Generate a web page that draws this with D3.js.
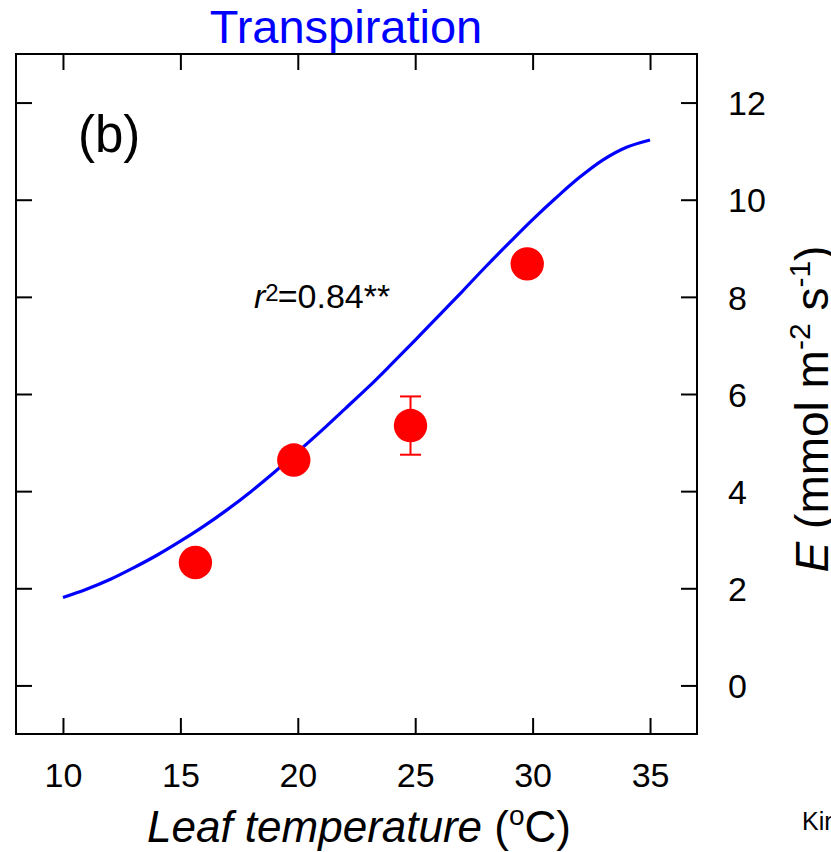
<!DOCTYPE html>
<html>
<head>
<meta charset="utf-8">
<script src="https://cdn.jsdelivr.net/npm/d3@7"></script>
<style>
  html, body { margin: 0; padding: 0; background: #fff; }
  svg { display: block; font-family: "Liberation Sans", Arial, sans-serif; }
</style>
</head>
<body>
<svg id="chart" width="831" height="852"></svg>
<script>
// ---- data ----
const xTicks = [10, 15, 20, 25, 30, 35];
const yTicks = [0, 2, 4, 6, 8, 10, 12];
const obsTemp = [15.64, 19.83, 24.80, 29.77];
const obsE = [2.53, 4.64, 5.35, 8.68];
const obsErr = [0, 0, 0.60, 0];
const modelTemp = [10, 11, 12, 13, 14, 15, 16, 17, 18, 19, 20, 21, 22, 23, 24, 25, 26, 27, 28, 29, 30, 31, 32, 33, 34, 35];
const modelE = [1.81, 1.98, 2.18, 2.42, 2.68, 2.97, 3.28, 3.62, 3.99, 4.39, 4.81, 5.24, 5.69, 6.14, 6.62, 7.11, 7.61, 8.11, 8.62, 9.11, 9.59, 10.04, 10.46, 10.82, 11.08, 11.23];

const svg = d3.select("#chart");
const pLeft = 16, pRight = 697, pTop = 54, pBottom = 734;

const x = d3.scaleLinear().domain([8, 37]).range([pLeft, pRight]);
const y = d3.scaleLinear().domain([-1, 13]).range([pBottom, pTop]);

const tickFont = 34;

// axes
const gB = svg.append("g").attr("transform", `translate(0,${pBottom})`)
  .call(d3.axisBottom(x).tickValues(xTicks).tickSize(-16).tickSizeOuter(0).tickPadding(29));
const gT = svg.append("g").attr("transform", `translate(0,${pTop})`)
  .call(d3.axisTop(x).tickValues(xTicks).tickSize(-16).tickSizeOuter(0).tickFormat(""));
const gL = svg.append("g").attr("transform", `translate(${pLeft},0)`)
  .call(d3.axisLeft(y).tickValues(yTicks).tickSize(-16).tickSizeOuter(0).tickFormat(""));
const gR = svg.append("g").attr("transform", `translate(${pRight},0)`)
  .call(d3.axisRight(y).tickValues(yTicks).tickSize(-16).tickSizeOuter(0).tickPadding(31));

[gB, gT, gL, gR].forEach(g => {
  g.selectAll(".domain").remove();
  g.selectAll("line").attr("stroke", "#000").attr("stroke-width", 2);
  g.selectAll("text").attr("fill", "#000").attr("font-size", tickFont)
    .attr("font-family", "'Liberation Sans', Arial, sans-serif");
});
gR.selectAll("text").attr("dy", "0.36em");

// frame
svg.append("rect").attr("x", pLeft).attr("y", pTop)
  .attr("width", pRight - pLeft).attr("height", pBottom - pTop)
  .attr("fill", "none").attr("stroke", "#000").attr("stroke-width", 2);

// model curve
const line = d3.line().x((d, i) => x(modelTemp[i])).y(d => y(d)).curve(d3.curveCatmullRom);
svg.append("path").datum(modelE).attr("d", line)
  .attr("fill", "none").attr("stroke", "#0000ff").attr("stroke-width", 3.2);

// error bars
const obs = obsTemp.map((t, i) => ({ t, e: obsE[i], err: obsErr[i] }));
const eb = svg.append("g").attr("stroke", "#ff0000").attr("stroke-width", 2);
obs.filter(d => d.err > 0).forEach(d => {
  eb.append("line").attr("x1", x(d.t)).attr("x2", x(d.t)).attr("y1", y(d.e - d.err)).attr("y2", y(d.e + d.err));
  eb.append("line").attr("x1", x(d.t) - 10.5).attr("x2", x(d.t) + 10.5).attr("y1", y(d.e + d.err)).attr("y2", y(d.e + d.err));
  eb.append("line").attr("x1", x(d.t) - 10.5).attr("x2", x(d.t) + 10.5).attr("y1", y(d.e - d.err)).attr("y2", y(d.e - d.err));
});

// points
svg.append("g").selectAll("circle").data(obs).join("circle")
  .attr("cx", d => x(d.t)).attr("cy", d => y(d.e)).attr("r", 16.7)
  .attr("fill", "#ff0000");

// title
svg.append("text").attr("x", 346).attr("y", 43).attr("text-anchor", "middle")
  .attr("font-size", 47).attr("fill", "#0000ff").text("Transpiration");

// panel label
svg.append("text").attr("x", 78).attr("y", 152).attr("font-size", 51).attr("fill", "#000").text("(b)");

// r^2 annotation
const r2 = svg.append("text").attr("x", 254).attr("y", 308).attr("font-size", 34).attr("fill", "#000");
r2.append("tspan").attr("font-style", "italic").text("r");
r2.append("tspan").attr("font-size", 24).attr("dy", -7).attr("dx", 0).text("2");
r2.append("tspan").attr("dy", 7).attr("dx", -1).text("=0.84**");

// x axis title
const xt = svg.append("text").attr("x", 359).attr("y", 842).attr("text-anchor", "middle")
  .attr("font-size", 44).attr("fill", "#000");
xt.append("tspan").attr("font-style", "italic").text("Leaf temperature");
xt.append("tspan").text(" (");
xt.append("tspan").attr("font-size", 28).attr("dy", -17).text("o");
xt.append("tspan").attr("dy", 17).text("C)");

// y axis title
const yt = svg.append("text").attr("transform", "translate(828,409) rotate(-90)")
  .attr("text-anchor", "middle").attr("font-size", 46).attr("fill", "#000");
yt.append("tspan").attr("font-style", "italic").text("E");
yt.append("tspan").text(" (mmol m");
yt.append("tspan").attr("font-size", 30).attr("dy", -18).text("-2");
yt.append("tspan").attr("dy", 18).text(" s");
yt.append("tspan").attr("font-size", 30).attr("dy", -18).text("-1");
yt.append("tspan").attr("dy", 18).text(")");

// clipped neighbouring text
svg.append("text").attr("x", 802).attr("y", 830).attr("font-size", 25).attr("fill", "#000").text("Kin");
</script>
</body>
</html>
